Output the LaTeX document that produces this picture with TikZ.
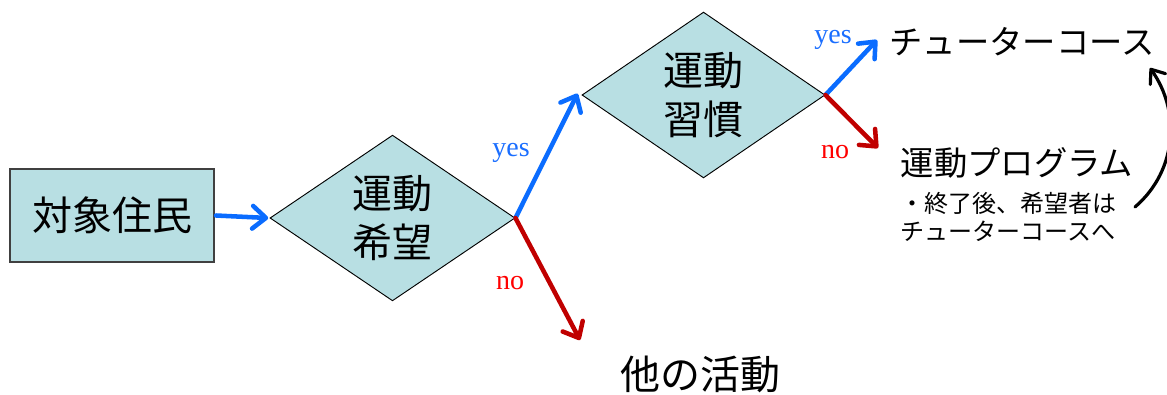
\documentclass[tikz,border=0pt]{standalone}
\usepackage{fontspec}
\newfontfamily\jp{Noto Sans CJK JP}
\newfontfamily\ser{Liberation Serif}
\usetikzlibrary{shapes.geometric,arrows.meta}
\definecolor{boxfill}{HTML}{B8DFE3}
\definecolor{arrblue}{HTML}{0A6CFF}
\definecolor{arrred}{HTML}{C00000}
\definecolor{lblblue}{HTML}{1A6EFF}
\definecolor{lblred}{HTML}{FF0000}
\tikzset{
  bigtxt/.style={font=\jp\fontsize{30pt}{37pt}\selectfont, align=center, text=black},
  midtxt/.style={font=\jp\fontsize{25pt}{30pt}\selectfont, text=black},
  smalltxt/.style={font=\jp\fontsize{18pt}{20.5pt}\selectfont, align=left, text=black},
  decision/.style={diamond, draw=black, line width=0.7pt, fill=boxfill, inner sep=0pt, bigtxt},
  startbox/.style={rectangle, draw=black!75, line width=1.1pt, fill=boxfill, inner sep=0pt, bigtxt},
  yesarrow/.style={draw=arrblue, line width=3.4pt, line cap=round, -{Straight Barb[length=10pt,width=17pt,round]}},
  noarrow/.style={draw=arrred, line width=3.4pt, line cap=round, -{Straight Barb[length=10pt,width=17pt,round]}},
  yeslbl/.style={font=\ser\fontsize{21pt}{24pt}\selectfont, text=lblblue},
  nolbl/.style={font=\ser\fontsize{21pt}{24pt}\selectfont, text=lblred},
}
\begin{document}
\begin{tikzpicture}[x=0.75pt,y=-0.75pt]
\useasboundingbox (0,0) rectangle (1167,394);
\node[startbox, minimum width=153pt, minimum height=69.75pt] (start) at (112,215.5) {対象住民};
\node[decision, minimum width=183.75pt, minimum height=123pt] (d1) at (392.5,218) {運動\\希望};
\node[decision, minimum width=182.25pt, minimum height=122.5pt] (d2) at (703.5,95) {運動\\習慣};
\node[bigtxt] (other) at (700,374) {他の活動};
\node[midtxt] (tutor) at (1022,42) {チューターコース};
\node[midtxt] (prog) at (1017,163) {運動プログラム};
\node[smalltxt, anchor=west, inner sep=0pt] (note) at (900,217) {・終了後、希望者は\\チューターコースへ};
\coordinate (noend1) at (580,340);
\coordinate (yesend2) at (877,40);
\coordinate (noend2) at (878,148);
\coordinate (curvestart) at (1135,207);
\coordinate (curveend) at (1150,68);
\draw[yesarrow] ([xshift=1pt]start.east) -- ([xshift=-1pt]d1.west);
\draw[yesarrow] (d1.east) -- ([xshift=-3pt,yshift=1pt]d2.west);
\draw[noarrow] (d1.east) -- (noend1);
\draw[yesarrow] (d2.east) -- (yesend2);
\draw[noarrow] (d2.east) -- (noend2);
\draw[black, line width=2.4pt, line cap=round, -{Straight Barb[length=9pt,width=14pt,round]}]
  (curvestart) .. controls (1178,170) and (1180,110) .. (curveend);
\node[yeslbl] (y1) at (511,153) {yes};
\node[nolbl] (n1) at (510,283) {no};
\node[yeslbl] (y2) at (833,40) {yes};
\node[nolbl] (n2) at (835,152) {no};
\end{tikzpicture}
\end{document}
